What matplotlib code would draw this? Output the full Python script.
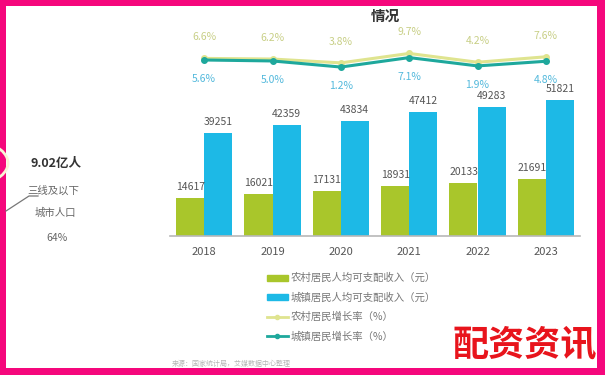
import matplotlib
matplotlib.use("Agg")
import matplotlib.pyplot as plt
from matplotlib.patches import Rectangle, Ellipse
from matplotlib.lines import Line2D
import numpy as np

plt.rcParams['font.family'] = ['Noto Sans CJK SC', 'DejaVu Sans']

years = ['2018', '2019', '2020', '2021', '2022', '2023']
rural_income = [14617, 16021, 17131, 18931, 20133, 21691]
urban_income = [39251, 42359, 43834, 47412, 49283, 51821]
rural_growth = [6.6, 6.2, 3.8, 9.7, 4.2, 7.6]
urban_growth = [5.6, 5.0, 1.2, 7.1, 1.9, 4.8]
legend_labels = ['农村居民人均可支配收入（元）', '城镇居民人均可支配收入（元）',
                 '农村居民增长率（%）', '城镇居民增长率（%）']

W, H = 605, 375
fig = plt.figure(figsize=(W/100, H/100), dpi=100)
fig.patch.set_facecolor('#f5077c')
# white inner panel
fig.add_artist(Rectangle((6/W, 7/H), (597-6)/W, (369-7)/H, transform=fig.transFigure,
                         facecolor='white', edgecolor='none', zorder=0))

GREEN = '#a9c62b'
BLUE = '#1db9e6'
RLINE = '#dfe48f'
ULINE = '#1ea89c'

ax = fig.add_axes([170/W, (H-236)/H, 410/W, 206/H])
ax.set_facecolor('none')
x = np.arange(len(years))
bw = 0.41
ax.bar(x - bw/2, rural_income, width=bw, color=GREEN, zorder=2)
ax.bar(x + bw/2, urban_income, width=bw, color=BLUE, zorder=2)
for i in range(len(years)):
    ax.annotate(str(rural_income[i]), (x[i] - bw/2, rural_income[i]), xytext=(0, 6),
                textcoords='offset pixels', ha='center', va='bottom', fontsize=7.5, color='#555555')
    ax.annotate(str(urban_income[i]), (x[i] + bw/2, urban_income[i]), xytext=(0, 6),
                textcoords='offset pixels', ha='center', va='bottom', fontsize=7.5, color='#555555')
ax.set_xlim(-0.5, 5.5)
ax.set_ylim(0, 78500)
for s in ['top', 'right', 'left']:
    ax.spines[s].set_visible(False)
ax.spines['bottom'].set_color('#b8b8b8')
ax.spines['bottom'].set_linewidth(1.2)
ax.set_yticks([])
ax.set_xticks(x)
ax.set_xticklabels(years, fontsize=8, color='#555555')
ax.tick_params(axis='x', length=0, pad=8)

ax2 = ax.twinx()
ax2.set_ylim(-104.4, 24.35)
ax2.axis('off')
ax2.plot(x, rural_growth, color=RLINE, lw=2.2, marker='o', ms=4, mfc=RLINE, mec=RLINE, zorder=3)
ax2.plot(x, urban_growth, color=ULINE, lw=2.2, marker='o', ms=4, mfc=ULINE, mec=ULINE, zorder=4)
for i in range(len(years)):
    ax2.annotate(f'{rural_growth[i]}%', (x[i], rural_growth[i]), xytext=(0, 16),
                 textcoords='offset pixels', ha='center', va='bottom', fontsize=7.5, color='#c8cf86')
    ax2.annotate(f'{urban_growth[i]}%', (x[i], urban_growth[i]), xytext=(0, -14),
                 textcoords='offset pixels', ha='center', va='top', fontsize=7.5, color='#53b9dc')

# title fragment
fig.text(385/W, (H-16)/H, '情况', ha='center', va='center', fontsize=10.5,
         fontweight='bold', color='#333333')

# legend
handles = [Rectangle((0, 0), 1, 1, color=GREEN), Rectangle((0, 0), 1, 1, color=BLUE),
           Line2D([], [], color=RLINE, lw=2, marker='o', ms=3),
           Line2D([], [], color=ULINE, lw=2, marker='o', ms=3)]
leg = fig.legend(handles, legend_labels, loc='upper left', bbox_to_anchor=(267/W, (H-273)/H),
                 frameon=False, fontsize=7.5, labelspacing=0.87, handlelength=2.0,
                 handleheight=0.5, handletextpad=0.3, borderpad=0, borderaxespad=0)
for t in leg.get_texts():
    t.set_color('#777777')

# left side annotation
fig.add_artist(Ellipse((-40/W, (H-163)/H), 96/W, 50/H, transform=fig.transFigure,
                       facecolor='none', edgecolor='#f8f5d6', lw=2, zorder=1))
fig.text(56/W, (H-164)/H, '9.02亿人', ha='center', va='center', fontsize=9,
         fontweight='bold', color='#333333')
fig.text(53/W, (H-191)/H, '三线及以下', ha='center', va='center', fontsize=7.5, color='#666666')
fig.text(55/W, (H-213)/H, '城市人口', ha='center', va='center', fontsize=7.5, color='#666666')
fig.text(57/W, (H-238)/H, '64%', ha='center', va='center', fontsize=7.5, color='#666666')
fig.add_artist(Line2D([6/W, 29/W, 38/W], [(H-211)/H, (H-196)/H, (H-196)/H],
                      transform=fig.transFigure, color='#777777', lw=0.9))

# source
fig.text(172/W, (H-364)/H, '来源：国家统计局，艾媒数据中心整理', ha='left', va='center',
         fontsize=5, color='#b5b5b5')

# watermark
fig.add_artist(Rectangle((440/W, 7/H), 157/W, 48/H, transform=fig.transFigure,
                         facecolor='white', edgecolor='none', zorder=5))
fig.text(525/W, (H-346)/H, '配资资讯', ha='center', va='center', fontsize=26,
         fontweight='bold', color='#e8141c', zorder=6)

fig.savefig('out.png', dpi=100, facecolor=fig.get_facecolor())
